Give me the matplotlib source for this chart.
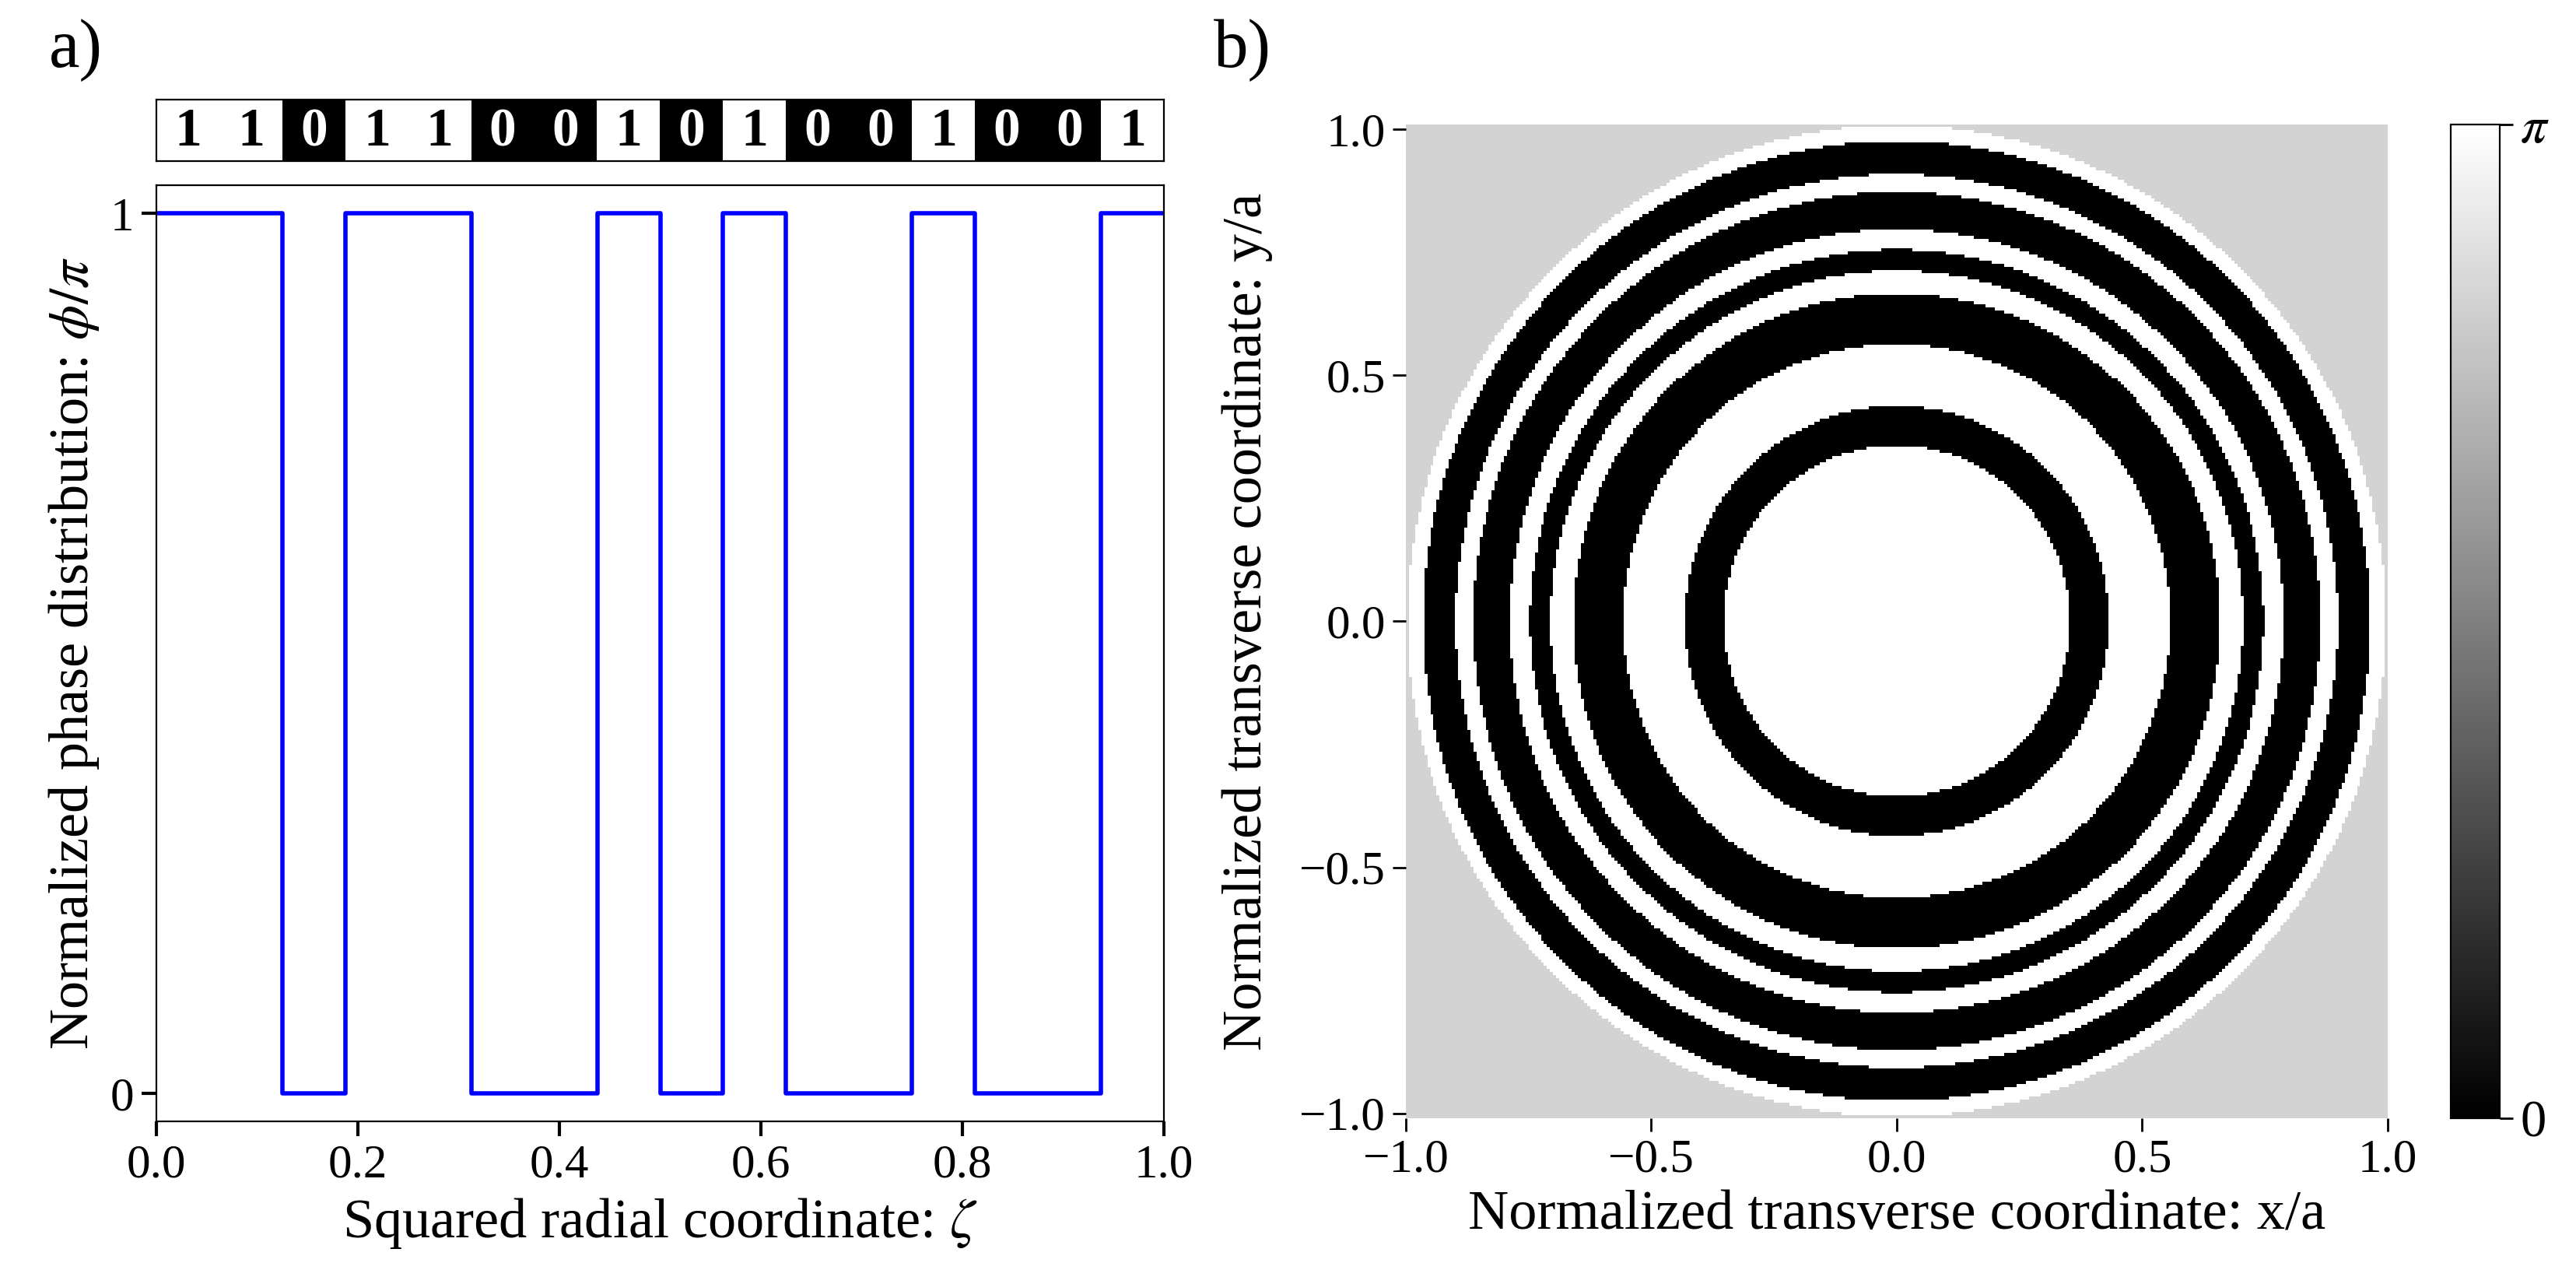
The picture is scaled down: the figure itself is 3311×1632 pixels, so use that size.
import numpy as np
import matplotlib as mpl
import matplotlib.pyplot as plt

plt.rcParams["font.family"] = "Liberation Serif"
plt.rcParams["mathtext.fontset"] = "stix"

# binary code, one bit per ring (zeta in steps of 1/16)
bits = [1, 1, 0, 1, 1, 0, 0, 1, 0, 1, 0, 0, 1, 0, 0, 1]
x_ticks = [0.0, 0.2, 0.4, 0.6, 0.8, 1.0]
y_ticks = [0, 1]
xy_ticks = [-1.0, -0.5, 0.0, 0.5, 1.0]
outside_value = 0.827 * np.pi

n_bits = len(bits)
edges = np.arange(n_bits + 1) / n_bits

fig = plt.figure(figsize=(16.56, 8.16), dpi=200)

# --- a) bit strip ---
ax_bits = fig.add_axes([0.0607, 0.873, 0.391, 0.0484])
ax_bits.imshow(np.array(bits)[None, :], cmap="gray", vmin=0, vmax=1,
               aspect="auto", extent=[0, 1, 0, 1], interpolation="nearest")
for i, b in enumerate(bits):
    ax_bits.text((i + 0.5) / n_bits, 0.47, str(b), ha="center", va="center",
                 fontsize=25, fontweight="bold",
                 color="black" if b == 1 else "white")
ax_bits.set_xticks([])
ax_bits.set_yticks([])
ax_bits.set_xlim(0, 1)
ax_bits.set_ylim(0, 1)

# --- a) phase profile ---
ax1 = fig.add_axes([0.0607, 0.117, 0.391, 0.737])
ax1.plot(edges, bits + [bits[-1]], drawstyle="steps-post", color="blue", lw=2)
ax1.set_xlim(0, 1)
ax1.set_ylim(-0.032, 1.032)
ax1.set_xticks(x_ticks)
ax1.set_xticklabels([f"{t:.1f}" for t in x_ticks])
ax1.set_yticks(y_ticks)
ax1.tick_params(labelsize=22, width=1.5, length=7)
ax1.set_xlabel(r"Squared radial coordinate: $\zeta$", fontsize=26)
ax1.set_ylabel(r"Normalized phase distribution: $\phi/\pi$", fontsize=26)

# --- b) 2D phase mask ---
n = 320
xs = np.linspace(-1, 1, n)
X, Y = np.meshgrid(xs, xs)
zeta = X ** 2 + Y ** 2
idx = np.clip((zeta * n_bits).astype(int), 0, n_bits - 1)
phase = np.array(bits)[idx] * np.pi
phase = np.where(zeta <= 1, phase, outside_value)

ax2 = fig.add_axes([0.5456, 0.1195, 0.381, 0.7825])
im = ax2.imshow(phase, cmap="gray", vmin=0, vmax=np.pi, origin="lower",
                extent=[-1, 1, -1.01, 1.01], aspect="auto",
                interpolation="nearest")
ax2.set_xlim(-1, 1)
ax2.set_ylim(-1.01, 1.01)
ax2.set_xticks(xy_ticks)
ax2.set_yticks(xy_ticks)
ax2.set_xticklabels(["\u22121.0", "\u22120.5", "0.0", "0.5", "1.0"])
ax2.set_yticklabels(["\u22121.0", "\u22120.5", "0.0", "0.5", "1.0"])
ax2.tick_params(labelsize=22, width=1.0, length=6)
for s in ax2.spines.values():
    s.set_visible(False)
ax2.set_xlabel("Normalized transverse coordinate: x/a", fontsize=26)
ax2.set_ylabel("Normalized transverse coordinate: y/a", fontsize=26, labelpad=12)

cax = fig.add_axes([0.951, 0.1195, 0.019, 0.7825])
cb = fig.colorbar(im, cax=cax, ticks=[0, np.pi])
cb.ax.set_yticklabels(["0", r"$\pi$"])
cb.ax.tick_params(labelsize=24, width=1.0, length=6)
cb.outline.set_linewidth(0.8)

fig.text(0.019, 0.985, "a)", fontsize=32, va="top", ha="left")
fig.text(0.471, 0.985, "b)", fontsize=32, va="top", ha="left")

fig.savefig("out.png", dpi=200)
